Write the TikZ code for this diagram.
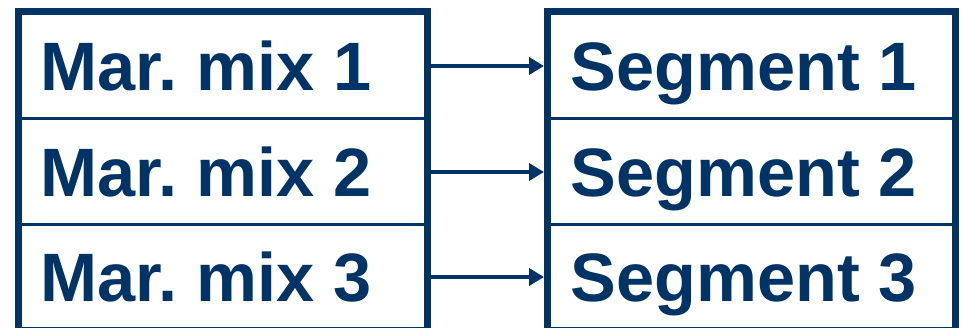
\documentclass[tikz,border=0pt]{standalone}
\usepackage{fontspec}
\setmainfont{Liberation Sans}
\usetikzlibrary{arrows.meta}
\definecolor{navy}{RGB}{0,51,102}
\begin{document}
\frenchspacing
\begin{tikzpicture}[x=1pt,y=-1pt,
  cell/.style={draw=navy, line width=3pt, anchor=north west, minimum width=406pt, inner sep=0pt},
  txt/.style={anchor=west, inner sep=0pt, text height=50pt, text depth=0pt, text=navy,
    font=\fontsize{68.5}{80}\selectfont\bfseries},
  outer/.style={draw=navy, line width=7pt},
  link/.style={draw=navy, line width=4pt, -{Triangle[length=15pt,width=17pt]}, shorten >=3.5pt}]
\useasboundingbox (0,0) rectangle (962,328);
\node[cell, minimum height=106pt] (l1) at (18.5,11.5) {};
\node[cell, minimum height=106pt] (l2) at (18.5,117.5) {};
\node[cell, minimum height=104pt] (l3) at (18.5,223.5) {};
\node[cell, minimum width=405pt, minimum height=106pt] (r1) at (547.5,11.5) {};
\node[cell, minimum width=405pt, minimum height=106pt] (r2) at (547.5,117.5) {};
\node[cell, minimum width=405pt, minimum height=104pt] (r3) at (547.5,223.5) {};
\draw[outer] (l1.north west) rectangle (l3.south east);
\draw[outer] (r1.north west) rectangle (r3.south east);
\node[txt, xshift=21.5pt] (tl1) at (l1.west) {Mar. mix 1};
\node[txt, xshift=21.5pt] (tl2) at (l2.west) {Mar. mix 2};
\node[txt, xshift=21.5pt] (tl3) at (l3.west) {Mar. mix 3};
\node[txt, xshift=23pt] (tr1) at (r1.west) {Segment 1};
\node[txt, xshift=23pt] (tr2) at (r2.west) {Segment 2};
\node[txt, xshift=23pt] (tr3) at (r3.west) {Segment 3};
\draw[link] (l1.east) -- (r1.west);
\draw[link] (l2.east) -- (r2.west);
\draw[link] (l3.east) -- (r3.west);
\end{tikzpicture}
\end{document}
